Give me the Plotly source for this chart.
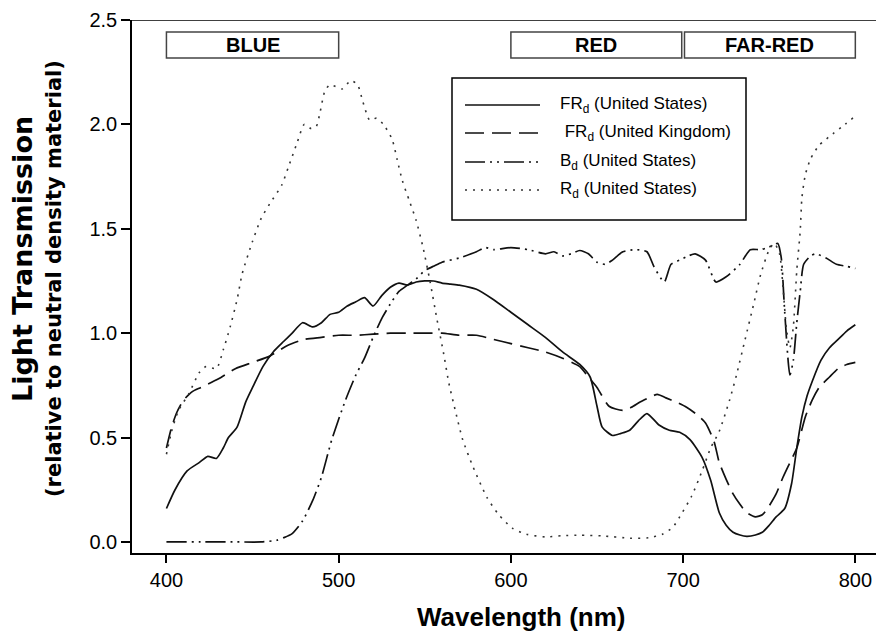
import plotly.graph_objects as go

# ---------------- data ----------------
wl_fr_us = [400, 405, 412, 419, 424, 429, 433, 436, 441, 446, 450, 456, 462, 468, 473, 479, 485, 490, 495,
            500, 505, 510, 515, 520, 525, 530, 535, 540, 545, 550, 555, 560, 565, 570, 580, 590, 600, 610,
            620, 630, 640, 646, 650, 653, 659, 664, 669, 674, 679, 686, 692, 698, 704, 711, 716, 721, 725,
            729, 733, 737, 742, 746, 750, 754, 759, 763, 766, 769, 772, 775, 780, 785, 790, 795, 800]
fr_us = [0.16, 0.25, 0.34, 0.38, 0.41, 0.40, 0.45, 0.50, 0.55, 0.67, 0.74, 0.84, 0.91, 0.96, 1.00, 1.05, 1.03,
         1.05, 1.09, 1.10, 1.13, 1.15, 1.17, 1.13, 1.18, 1.22, 1.24, 1.23, 1.245, 1.25, 1.25, 1.24, 1.235,
         1.23, 1.21, 1.16, 1.10, 1.04, 0.98, 0.91, 0.85, 0.79, 0.65, 0.55, 0.51, 0.52, 0.535, 0.58, 0.615,
         0.56, 0.535, 0.525, 0.49, 0.405, 0.295, 0.14, 0.08, 0.046, 0.033, 0.027, 0.033, 0.046, 0.08, 0.12,
         0.16, 0.28, 0.45, 0.60, 0.70, 0.77, 0.87, 0.93, 0.97, 1.01, 1.04]

wl_fr_uk = [400, 403, 406, 410, 415, 420, 430, 440, 450, 460, 470, 480, 490, 500, 510, 520, 530, 540, 550,
            560, 570, 580, 590, 600, 610, 620, 630, 640, 645, 650, 657, 665, 670, 675, 680, 685, 690, 696,
            702, 708, 713, 718, 721, 725, 729, 733, 737, 742, 746, 749, 754, 758, 762, 766, 771, 775, 779,
            785, 790, 795, 800]
fr_uk = [0.45, 0.55, 0.62, 0.68, 0.72, 0.74, 0.78, 0.83, 0.86, 0.89, 0.94, 0.97, 0.98, 0.99, 0.99, 0.995,
         1.0, 1.0, 1.0, 1.0, 0.99, 0.99, 0.97, 0.95, 0.93, 0.91, 0.88, 0.84, 0.79, 0.74, 0.65, 0.63, 0.645,
         0.67, 0.69, 0.707, 0.69, 0.67, 0.645, 0.61, 0.57, 0.48, 0.38, 0.30, 0.23, 0.18, 0.14, 0.12, 0.13,
         0.16, 0.23, 0.31, 0.38, 0.45, 0.60, 0.68, 0.74, 0.79, 0.83, 0.85, 0.86]

wl_b_us = [400, 420, 440, 455, 464, 468, 473, 479, 485, 490, 496, 504, 510, 515, 520, 525, 530, 535, 540,
           545, 550, 555, 560, 570, 580, 585, 590, 600, 610, 620, 625, 630, 635, 640, 645, 650, 655, 659,
           665, 672, 679, 683, 689, 693, 698, 703, 707, 713, 719, 725, 733, 739, 745, 749, 752, 755, 757,
           759, 762, 764, 766, 768, 770, 774, 777, 783, 789, 795, 800]
b_us = [0.0, 0.0, 0.0, 0.0, 0.008, 0.02, 0.04, 0.10, 0.20, 0.31, 0.49, 0.68, 0.80, 0.88, 0.98, 1.07, 1.14,
        1.20, 1.23, 1.26, 1.30, 1.32, 1.34, 1.36, 1.39, 1.41, 1.40, 1.41, 1.40, 1.38, 1.39, 1.37, 1.38, 1.396,
        1.38, 1.34, 1.33, 1.35, 1.39, 1.40, 1.39, 1.32, 1.245, 1.33, 1.35, 1.37, 1.38, 1.35, 1.245, 1.27,
        1.33, 1.40, 1.40, 1.41, 1.42, 1.43, 1.36, 1.10, 0.80, 0.87, 1.05, 1.20, 1.33, 1.37, 1.38, 1.36, 1.33,
        1.32, 1.31]

wl_r_us = [400, 403, 407, 413, 419, 423, 429, 433, 437, 441, 444, 450, 455, 460, 467, 471, 476, 480, 484,
           487, 489, 492, 495, 502, 507, 511, 514, 518, 522, 526, 531, 534, 537, 541, 545, 549, 553, 557,
           561, 564, 568, 572, 578, 586, 593, 601, 609, 620, 630, 640, 653, 669, 680, 688, 694, 698, 705,
           711, 716, 721, 727, 731, 736, 741, 745, 750, 753, 756, 758, 760, 762, 764, 766, 768, 769, 771,
           774, 779, 787, 794, 800]
r_us = [0.42, 0.53, 0.63, 0.71, 0.81, 0.84, 0.83, 0.92, 1.03, 1.16, 1.285, 1.44, 1.55, 1.62, 1.71, 1.80,
        1.915, 2.00, 1.98, 1.99, 2.05, 2.16, 2.19, 2.17, 2.21, 2.19, 2.11, 2.02, 2.03, 2.00, 1.93, 1.83, 1.73,
        1.635, 1.54, 1.41, 1.25, 1.07, 0.90, 0.76, 0.62, 0.49, 0.36, 0.215, 0.13, 0.065, 0.037, 0.024, 0.03,
        0.032, 0.029, 0.018, 0.02, 0.037, 0.07, 0.12, 0.22, 0.34, 0.45, 0.53, 0.68, 0.80, 0.97, 1.14, 1.28,
        1.40, 1.43, 1.38, 1.22, 1.02, 0.93, 1.03, 1.30, 1.49, 1.65, 1.76, 1.835, 1.90, 1.955, 2.00, 2.04]

series_names = ["FR<sub>d</sub> (United States)", " FR<sub>d</sub> (United Kingdom)",
                "B<sub>d</sub> (United States)", "R<sub>d</sub> (United States)"]

band_labels = ["BLUE", "RED", "FAR-RED"]
band_start = [400, 600, 700.8]
band_end = [500, 699.2, 800]

x_ticks = [400, 500, 600, 700, 800]
y_ticks = [0.0, 0.5, 1.0, 1.5, 2.0, 2.5]
y_ticklabels = ["0.0", "0.5", "1.0", "1.5", "2.0", "2.5"]

# ---------------- styles ----------------
FONT = "Liberation Sans, Arial, Helvetica, sans-serif"
TITLE_FONT_Y = "DejaVu Sans, Liberation Sans, sans-serif"
W, H = 881, 641
ML, MR, MT, MB = 132, 5, 20, 88
PW, PH = W - ML - MR, H - MT - MB

dash_styles = ["solid", "19px,8px", "20px,5px,2px,5px,2px,5px", "2px,6px"]
widths = [1.7, 1.7, 1.7, 1.6]
colors = ["#111", "#111", "#111", "#333"]
series = [(wl_fr_us, fr_us), (wl_fr_uk, fr_uk), (wl_b_us, b_us), (wl_r_us, r_us)]

fig = go.Figure()
for (xs, ys), name, dsh, w, c in zip(series, series_names, dash_styles, widths, colors):
    fig.add_trace(go.Scatter(x=xs, y=ys, mode="lines", name=name,
                             line=dict(color=c, width=w, dash=dsh, shape="spline", smoothing=0.6),
                             showlegend=False))


def px2paper_x(px):
    return (px - ML) / PW


def px2paper_y(py):
    return (H - MB - py) / PH


shapes = []
annotations = []

# top frame line at 2.5
shapes.append(dict(type="line", xref="paper", yref="y", x0=0, x1=1, y0=2.5, y1=2.5,
                   line=dict(color="black", width=1.6), layer="above"))

# band boxes
for lab, s, e in zip(band_labels, band_start, band_end):
    shapes.append(dict(type="rect", xref="x", yref="paper", x0=s, x1=e,
                       y0=px2paper_y(58), y1=px2paper_y(32),
                       line=dict(color="#444", width=1.5), fillcolor="white"))
    annotations.append(dict(x=(s + e) / 2, y=px2paper_y(45), xref="x", yref="paper", text="<b>%s</b>" % lab,
                            showarrow=False, font=dict(family=FONT, size=20, color="black"),
                            xanchor="center", yanchor="middle"))

# legend box (manual)
shapes.append(dict(type="rect", xref="paper", yref="paper",
                   x0=px2paper_x(452), x1=px2paper_x(746), y0=px2paper_y(220), y1=px2paper_y(78),
                   line=dict(color="black", width=1.5), fillcolor="white", layer="above"))
row_y = [105, 133, 162, 190]
text_x = [558, 558, 558, 558]
for name, dsh, w, c, ry, tx in zip(series_names, dash_styles, widths, colors, row_y, text_x):
    shapes.append(dict(type="line", xref="paper", yref="paper",
                       x0=px2paper_x(465), x1=px2paper_x(540), y0=px2paper_y(ry), y1=px2paper_y(ry),
                       line=dict(color=c, width=w, dash=dsh), layer="above"))
    annotations.append(dict(x=px2paper_x(tx), y=px2paper_y(ry), xref="paper", yref="paper", text=name,
                            showarrow=False, font=dict(family=FONT, size=17, color="black"),
                            xanchor="left", yanchor="middle"))

# axis titles
annotations.append(dict(x=px2paper_x(521), y=px2paper_y(617), xref="paper", yref="paper",
                        text="<b>Wavelength (nm)</b>", showarrow=False,
                        font=dict(family=FONT, size=26, color="black"), xanchor="center", yanchor="middle"))
annotations.append(dict(x=px2paper_x(22), y=px2paper_y(259), xref="paper", yref="paper",
                        text="<b>Light Transmission</b>", showarrow=False, textangle=-90,
                        font=dict(family=TITLE_FONT_Y, size=27, color="black"), xanchor="center",
                        yanchor="middle"))
annotations.append(dict(x=px2paper_x(54), y=px2paper_y(279), xref="paper", yref="paper",
                        text="<b>(relative to neutral density material)</b>", showarrow=False, textangle=-90,
                        font=dict(family=TITLE_FONT_Y, size=21, color="black"), xanchor="center",
                        yanchor="middle"))

fig.update_layout(
    width=W, height=H,
    margin=dict(l=ML, r=MR, t=MT, b=MB, pad=0),
    paper_bgcolor="white", plot_bgcolor="white",
    showlegend=False,
    font=dict(family=FONT, size=20, color="black"),
    xaxis=dict(range=[380, 812], tickvals=x_ticks, ticks="outside", ticklen=8, tickwidth=1.5,
               tickcolor="black", showline=True, linecolor="black", linewidth=1.6, showgrid=False,
               zeroline=False, tickfont=dict(size=20)),
    yaxis=dict(range=[-0.053, 2.5], tickvals=y_ticks, ticktext=y_ticklabels, ticks="outside", ticklen=9,
               tickwidth=1.5, tickcolor="black", showline=True, linecolor="black", linewidth=1.6,
               showgrid=False, zeroline=False, tickfont=dict(size=20)),
    shapes=shapes, annotations=annotations,
)

fig.write_html("out.html", config={"displayModeBar": False},
               post_script="document.body.style.margin='0px';")
